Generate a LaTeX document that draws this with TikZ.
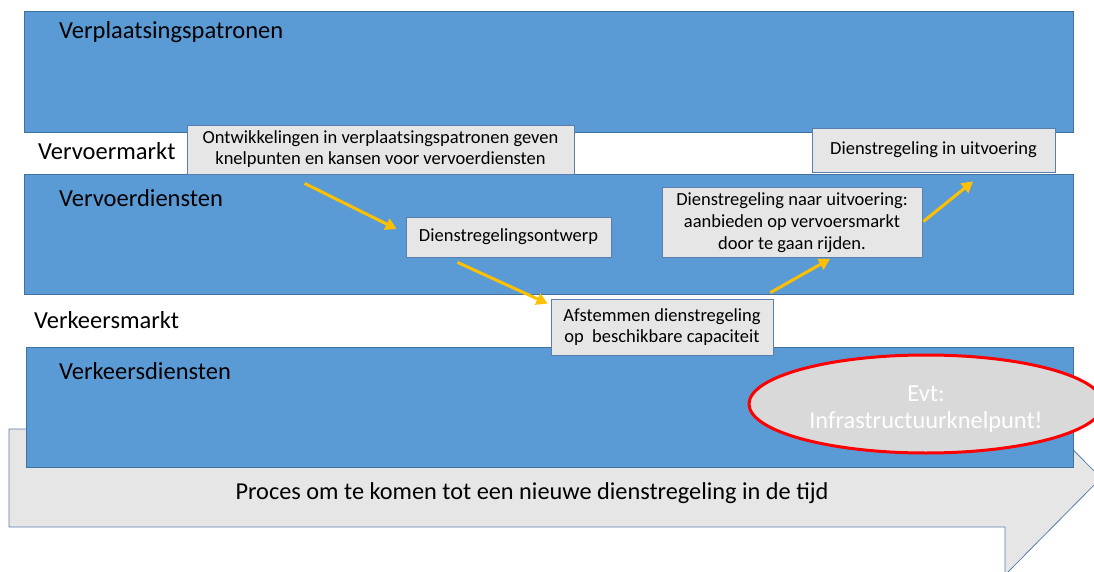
\documentclass[tikz,border=0pt]{standalone}
\usepackage{fontspec}
\setmainfont{Carlito}
\usetikzlibrary{arrows.meta,shapes.geometric,calc}
\definecolor{bandblue}{HTML}{5B9BD5}
\definecolor{bandline}{HTML}{41719C}
\definecolor{boxgray}{HTML}{E7E6E6}
\definecolor{boxline}{HTML}{5B7FAA}
\definecolor{ovalgray}{HTML}{D9D9D9}
\definecolor{flowyellow}{HTML}{FFC000}
\begin{document}
\begin{tikzpicture}[x=1pt,y=-1pt,
  band/.style={draw=bandline,fill=bandblue,line width=0.8pt},
  lbl/.style={anchor=base west,inner sep=0pt,font=\fontsize{24.5}{28}\selectfont},
  stepbox/.style={draw=boxline,fill=boxgray,line width=0.8pt,align=center,
    inner sep=0pt,font=\fontsize{18.5}{21}\selectfont},
  flow/.style={draw=flowyellow,line width=3pt,
    -{Triangle[length=11pt,width=12pt]}}]
\clip (0,0) rectangle (1094,572);
\fill[white] (0,0) rectangle (1094,572);

% process arrow along the bottom
\draw[draw=boxline,fill=boxgray,line width=0.8pt]
  (9,429) -- (1005,429) -- (1005,381) -- (1101,478) -- (1005,575)
  -- (1005,527) -- (9,527) -- cycle;
\node[inner sep=0pt,font=\fontsize{24.3}{28}\selectfont] (proc) at (532,493)
  {Proces om te komen tot een nieuwe dienstregeling in de tijd};

% three bands
\draw[band] (24,11) rectangle (1073,132);
\draw[band] (24,174) rectangle (1073,294);
\draw[band] (26,347) rectangle (1073,467);

\node[lbl] (l1) at (59,39) {Verplaatsingspatronen};
\node[lbl] (l2) at (38,160) {Vervoermarkt};
\node[lbl] (l3) at (59,206) {Vervoerdiensten};
\node[lbl] (l4) at (34,328) {Verkeersmarkt};
\node[lbl] (l5) at (59,379) {Verkeersdiensten};

% process steps
\node[stepbox,minimum width=387pt,minimum height=49pt] (A) at (380.5,149.5)
  {Ontwikkelingen in verplaatsingspatronen geven\\knelpunten en kansen voor vervoerdiensten};
\node[stepbox,minimum width=205pt,minimum height=40pt] (B) at (508.5,237)
  {Dienstregelingsontwerp};
\node[stepbox,minimum width=222pt,minimum height=56pt] (E) at (662,327)
  {Afstemmen dienstregeling\\op\ \ beschikbare capaciteit};
\node[stepbox,minimum width=260pt,minimum height=70pt,
  font=\fontsize{18.5}{22}\selectfont] (C) at (792,222.5)
  {Dienstregeling naar uitvoering:\\aanbieden op vervoersmarkt\\door te gaan rijden.};
\node[stepbox,minimum width=243pt,minimum height=44pt] (D) at (933.5,150)
  {Dienstregeling in uitvoering};

% possible bottleneck
\node[ellipse,draw=red,line width=3pt,fill=ovalgray,minimum width=354pt,
  minimum height=98pt,inner sep=0pt] (F) at (926,404) {};
\node[inner sep=0pt,align=center,text=white,
  font=\fontsize{24.4}{27}\selectfont] (Ftext) at ($(F.center)+(0,5)$)
  {Evt:\\Infrastructuurknelpunt!};

% flow between the steps
\draw[flow] ($(A.south west)+(118,9)$) -- ($(B.west)+(-9,-8)$);
\draw[flow] ($(B.south west)+(52,5)$) -- ($(E.north west)+(-3,5)$);
\draw[flow] ($(E.north east)+(-3,-6)$) -- ($(C.south)+(38,1)$);
\draw[flow] ($(C.east)+(1,-1)$) -- ($(D.south)+(39.5,9)$);
\end{tikzpicture}
\end{document}
